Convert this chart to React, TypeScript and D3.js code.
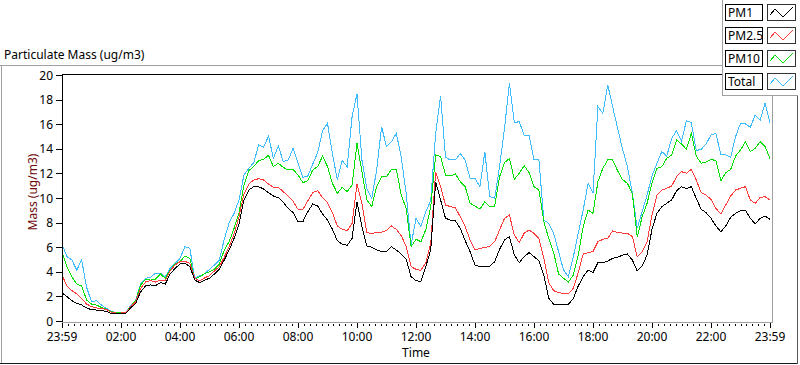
import React from 'react';
import * as d3 from 'd3';

const W = 800;
const H = 365;

// one sample every 10 minutes, starting at 23:59 of the previous day
const STEP_MIN = 10;

const pm1 = [
  2.30, 1.98, 1.65, 1.44, 1.30, 1.06, 0.92, 0.89, 0.84, 0.79, 0.62, 0.57, 0.60, 0.62, 1.08, 1.44,
  2.38, 2.85, 2.93, 2.87, 3.12, 3.01, 3.82, 4.28, 4.63, 4.69, 4.42, 3.33, 3.12, 3.33, 3.47, 3.82,
  4.20, 4.96, 5.77, 6.72, 7.89, 9.84, 10.65, 10.92, 10.92, 10.73, 10.43, 10.16, 10.03, 9.65, 9.16, 8.81,
  8.08, 8.08, 8.89, 9.51, 9.35, 8.70, 8.21, 7.45, 6.53, 6.25, 6.15, 6.72, 9.70, 7.67, 6.10, 5.99,
  5.77, 5.66, 5.66, 6.04, 5.77, 5.45, 5.01, 3.60, 3.28, 3.20, 4.42, 5.80, 11.33, 9.84, 8.35, 8.21,
  8.16, 7.53, 6.53, 5.64, 4.55, 4.42, 4.42, 4.47, 4.82, 5.83, 6.59, 6.86, 5.37, 4.74, 5.23, 5.56,
  5.23, 4.91, 3.74, 1.84, 1.36, 1.36, 1.36, 1.36, 1.84, 2.85, 3.60, 4.15, 3.93, 4.74, 4.74, 4.88,
  5.09, 5.18, 5.35, 5.45, 4.96, 4.07, 4.47, 5.37, 7.45, 8.75, 9.30, 9.57, 9.84, 10.60, 10.92, 10.76,
  10.92, 9.97, 9.08, 8.81, 8.35, 7.72, 7.26, 7.72, 8.43, 8.75, 8.97, 9.02, 8.35, 7.89, 8.35, 8.54,
  8.27,
];

const pm25 = [
  3.74, 2.85, 2.47, 2.20, 1.84, 1.38, 1.17, 1.06, 1.00, 0.95, 0.73, 0.65, 0.65, 0.68, 1.17, 1.57,
  2.66, 3.17, 3.28, 3.17, 3.33, 3.28, 4.09, 4.55, 4.82, 4.85, 4.69, 3.47, 3.28, 3.50, 3.69, 4.07,
  4.42, 5.18, 6.04, 7.07, 8.48, 10.33, 11.14, 11.46, 11.57, 11.46, 11.14, 10.87, 10.87, 10.51, 10.16, 9.73,
  9.08, 9.08, 9.76, 10.43, 10.60, 10.03, 9.62, 8.81, 7.72, 7.45, 7.34, 7.94, 11.11, 9.57, 7.18, 7.13,
  7.18, 7.21, 7.37, 7.72, 7.45, 6.94, 6.04, 4.42, 4.20, 4.12, 4.74, 6.30, 12.14, 10.92, 9.43, 9.30,
  9.21, 8.48, 7.67, 6.59, 5.77, 5.91, 5.96, 6.10, 6.45, 7.40, 8.35, 8.62, 6.99, 6.37, 7.13, 7.40,
  7.13, 6.72, 5.09, 3.12, 2.47, 2.30, 2.25, 2.20, 2.66, 3.93, 5.45, 5.56, 5.64, 6.45, 6.64, 6.72,
  7.34, 7.18, 7.15, 7.13, 6.86, 5.23, 5.64, 6.45, 8.62, 10.24, 10.65, 10.79, 10.98, 11.73, 12.14, 12.01,
  12.33, 11.46, 10.43, 10.24, 9.89, 9.16, 8.70, 9.43, 10.16, 10.65, 10.79, 10.92, 9.84, 9.57, 10.05, 10.11,
  9.84,
];

const pm10 = [
  5.64, 4.42, 3.60, 3.01, 2.85, 1.71, 1.38, 1.30, 1.11, 0.95, 0.76, 0.68, 0.65, 0.68, 1.22, 1.65,
  2.93, 3.39, 3.33, 3.39, 3.82, 3.47, 4.15, 4.63, 4.82, 5.28, 5.09, 3.39, 3.60, 3.85, 4.01, 4.20,
  4.63, 5.77, 6.45, 7.53, 8.81, 11.06, 12.22, 12.55, 13.04, 13.14, 13.47, 12.55, 12.82, 12.49, 12.28, 12.33,
  11.87, 11.25, 11.41, 12.28, 12.55, 13.41, 12.55, 11.19, 10.38, 10.87, 10.51, 11.06, 14.44, 12.14, 9.84, 9.30,
  10.92, 11.73, 11.73, 12.33, 12.33, 10.24, 9.16, 6.04, 6.64, 6.45, 7.45, 9.30, 13.50, 13.36, 11.87, 11.79,
  11.95, 11.33, 10.92, 9.57, 9.35, 9.10, 9.70, 9.30, 9.30, 11.73, 12.87, 13.22, 11.52, 12.01, 12.63, 12.06,
  10.92, 10.65, 8.08, 6.72, 5.56, 3.82, 3.47, 3.17, 3.74, 5.37, 7.67, 9.02, 8.75, 11.33, 12.41, 13.09,
  13.09, 12.22, 11.50, 11.19, 10.38, 6.80, 8.48, 9.57, 11.19, 12.41, 12.55, 13.22, 13.50, 14.72, 14.39, 13.96,
  15.26, 13.41, 12.82, 12.93, 13.14, 13.04, 11.41, 12.06, 12.33, 13.41, 13.90, 14.58, 13.77, 14.04, 14.58, 14.17,
  13.22,
];

const total = [
  6.26, 5.23, 4.96, 4.15, 4.96, 2.74, 1.57, 1.65, 1.30, 1.03, 0.79, 0.68, 0.65, 0.70, 1.30, 1.71,
  3.06, 3.47, 3.55, 3.88, 3.88, 3.60, 4.28, 4.69, 5.09, 6.04, 5.91, 3.47, 3.66, 3.85, 4.20, 4.55,
  4.96, 6.64, 7.99, 8.75, 9.84, 11.87, 12.41, 12.87, 14.31, 14.12, 15.04, 13.22, 14.23, 12.95, 13.09, 14.04,
  12.82, 11.68, 11.79, 12.76, 13.69, 15.47, 16.07, 13.63, 11.46, 13.05, 12.55, 16.61, 18.46, 13.09, 10.79, 9.97,
  12.28, 15.80, 14.17, 14.58, 15.26, 13.31, 10.38, 6.18, 8.35, 7.67, 8.89, 9.80, 15.26, 18.30, 13.31, 13.09,
  13.09, 13.63, 13.09, 11.60, 11.60, 10.90, 13.77, 10.11, 9.97, 12.55, 15.66, 19.32, 16.12, 16.21, 15.12, 15.12,
  13.09, 13.09, 8.21, 7.94, 7.13, 5.64, 4.15, 3.60, 5.23, 7.13, 9.02, 11.19, 10.38, 17.43, 16.88, 19.19,
  17.43, 15.66, 14.00, 12.55, 10.40, 7.53, 8.89, 10.24, 11.79, 12.82, 13.77, 13.41, 14.85, 15.47, 14.60, 16.29,
  16.12, 13.85, 13.96, 14.39, 15.12, 15.26, 13.50, 13.50, 13.31, 14.99, 16.07, 16.02, 15.75, 16.75, 16.34, 17.70,
  16.07,
];

const seriesNames = ['PM1', 'PM2.5', 'PM10', 'Total'];
const seriesColors = ['#000000', '#ff3c3c', '#00e000', '#3cbcff'];
const seriesData = [pm1, pm25, pm10, total];

const xTickMinutes = [0, 120, 240, 360, 480, 600, 720, 840, 960, 1080, 1200, 1320, 1440];
const xTickLabels = ['23:59', '02:00', '04:00', '06:00', '08:00', '10:00', '12:00', '14:00', '16:00', '18:00', '20:00', '22:00', '23:59'];
const yTicks = [0, 2, 4, 6, 8, 10, 12, 14, 16, 18, 20];

const FONT = '"Noto Sans", "DejaVu Sans", sans-serif';

export default function App() {
  const x = d3.scaleLinear().domain([0, 1440]).range([62, 770]);
  const y = d3.scaleLinear().domain([0, 20]).range([321, 75]);

  const line = d3.line<number>()
    .x((d, i) => x(i * STEP_MIN))
    .y(d => y(d));

  const minorTicks = d3.range(0, 1441, 12);

  // draw Total first so PM1 ends up on top
  const drawOrder = [3, 2, 1, 0];

  return (
    <svg
      width={W}
      height={H}
      style={{ position: 'absolute', left: 0, top: 0, background: '#fff' }}
      fontFamily={FONT}
    >
      <defs>
        <clipPath id="plotClip">
          <rect x={63} y={75} width={709} height={247} />
        </clipPath>
      </defs>

      {/* outer frame */}
      <line x1={0} x2={722} y1={65.5} y2={65.5} stroke="#a0a0a0" />
      <line x1={1.5} x2={1.5} y1={65} y2={363} stroke="#a0a0a0" />
      <line x1={0} x2={798} y1={363.5} y2={363.5} stroke="#1a1a1a" />
      <line x1={797.5} x2={797.5} y1={0} y2={364} stroke="#555" />

      <text x={4} y={59} fontSize={12} fill="#000">Particulate Mass (ug/m3)</text>

      {/* plot area */}
      <rect x={62} y={74} width={710} height={248} fill="#fff" />
      <g clipPath="url(#plotClip)">
        {drawOrder.map(i => (
          <path
            key={seriesNames[i]}
            d={line(seriesData[i]) || ''}
            fill="none"
            stroke={seriesColors[i]}
            strokeWidth={1}
            shapeRendering="crispEdges"
          />
        ))}
      </g>
      <line x1={62} x2={773} y1={74.5} y2={74.5} stroke="#000" />
      <line x1={62.5} x2={62.5} y1={74} y2={323} stroke="#000" />
      <line x1={772.5} x2={772.5} y1={74} y2={323} stroke="#a0a0a0" />
      <line x1={62} x2={773} y1={322.5} y2={322.5} stroke="#a0a0a0" />

      {/* y axis */}
      {yTicks.map(t => (
        <g key={t}>
          <line x1={56} x2={62} y1={Math.round(y(t)) + 0.5} y2={Math.round(y(t)) + 0.5} stroke="#000" />
          <text x={53} y={y(t) + 4.5} fontSize={12} textAnchor="end" fill="#000">{t}</text>
        </g>
      ))}
      <text
        transform="translate(37,192) rotate(-90)"
        fontSize={12}
        textAnchor="middle"
        fill="#6e0a0a"
      >
        Mass (ug/m3)
      </text>

      {/* x axis */}
      {minorTicks.map(m => (
        <line key={m} x1={Math.round(x(m)) + 0.5} x2={Math.round(x(m)) + 0.5} y1={324} y2={326} stroke="#000" />
      ))}
      {xTickMinutes.map((m, i) => (
        <g key={m}>
          <line x1={Math.round(x(m)) + 0.5} x2={Math.round(x(m)) + 0.5} y1={323} y2={328} stroke="#000" />
          <text x={x(m)} y={341} fontSize={12} textAnchor="middle" fill="#000">{xTickLabels[i]}</text>
        </g>
      ))}
      <text x={416} y={357} fontSize={12} textAnchor="middle" fill="#000">Time</text>

      {/* legend */}
      <rect x={722} y={0} width={76} height={95} fill="#fff" />
      <line x1={722.5} x2={722.5} y1={0} y2={96} stroke="#a0a0a0" />
      <line x1={722} x2={798} y1={95.5} y2={95.5} stroke="#a0a0a0" />
      {seriesNames.map((name, i) => {
        const top = 4 + i * 23;
        return (
          <g key={name}>
            <rect x={725.5} y={top + 0.5} width={37} height={16} fill="#fff" stroke="#000" />
            <text x={728} y={top + 13} fontSize={12} fill="#000">{name}</text>
            <rect x={767.5} y={top + 0.5} width={28} height={16} fill="#fff" stroke="#333" />
            <polyline
              points={`${770},${top + 11} ${775},${top + 5} ${783},${top + 13} ${793},${top + 3}`}
              fill="none"
              stroke={seriesColors[i]}
              shapeRendering="crispEdges"
            />
          </g>
        );
      })}
    </svg>
  );
}
